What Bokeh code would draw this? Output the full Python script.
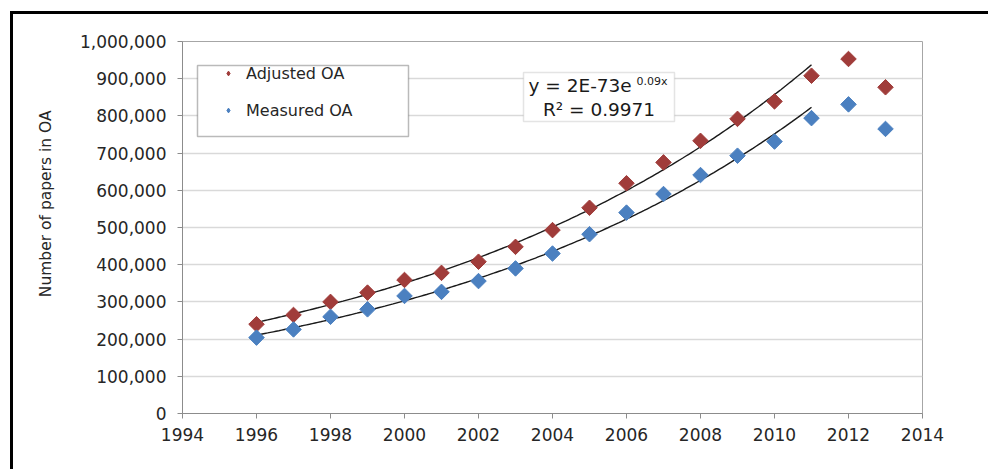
import numpy as np
from bokeh.plotting import figure
from bokeh.models import (Range1d, FixedTicker, NumeralTickFormatter, Legend, LegendItem,
                          BoxAnnotation, Label, Title)
from bokeh.embed import file_html
from bokeh.resources import INLINE

# ---- data ----
years = [1996, 1997, 1998, 1999, 2000, 2001, 2002, 2003, 2004,
         2005, 2006, 2007, 2008, 2009, 2010, 2011, 2012, 2013]
adjusted_oa = [240000, 265000, 300000, 325000, 359000, 378000, 408000, 448000, 493000,
               553000, 619000, 675000, 733000, 792000, 839000, 908000, 953000, 877000]
measured_oa = [204000, 226000, 260000, 280000, 316000, 327000, 356000, 390000, 430000,
               482000, 540000, 590000, 641000, 693000, 731000, 794000, 831000, 765000]
fit_last_year = 2011
x_ticks = list(range(1994, 2015, 2))
y_ticks = list(range(0, 1000001, 100000))
eq_main = "y = 2E-73e"
eq_sup = "0.09x"
eq_r2 = "R² = 0.9971"
y_title = "Number of papers in  OA"

FONT = "DejaVu Sans"
RED = "#A03C3A"
BLUE = "#4B80C0"

W, H = 975, 455
p = figure(width=W, height=H, output_backend="svg", toolbar_location=None,
           x_range=Range1d(1994, 2014), y_range=Range1d(0, 1000000),
           frame_width=740, frame_height=372,
           min_border_left=169, min_border_top=27,
           min_border_right=W - 169 - 740, min_border_bottom=H - 27 - 372)
p.styles = {"border-top": "3px solid #000", "border-left": "3px solid #000",
            "margin-left": "10px", "margin-top": "11px"}

p.outline_line_color = "#A6A6A6"
p.outline_line_width = 1
p.xgrid.visible = False
p.ygrid.grid_line_color = "#D9D9D9"
p.ygrid.grid_line_width = 1.5
p.ygrid.ticker = FixedTicker(ticks=y_ticks)

for ax in (p.xaxis[0], p.yaxis[0]):
    ax.axis_line_color = "#8C8C8C"
    ax.major_tick_line_color = "#8C8C8C"
    ax.minor_tick_line_color = None
    ax.major_tick_in = 0
    ax.major_tick_out = 5
    ax.major_label_text_font = FONT
    ax.major_label_text_font_size = "17px"
    ax.major_label_text_color = "#262626"
p.xaxis.ticker = FixedTicker(ticks=x_ticks)
p.yaxis.ticker = FixedTicker(ticks=y_ticks)
p.yaxis.formatter = NumeralTickFormatter(format="0,0")
p.xaxis.major_label_standoff = 9
p.yaxis.major_label_standoff = 11

# y-axis title as a side title, top-aligned and pushed down like the reference
p.add_layout(Title(text=y_title, align="right", offset=64, standoff=43,
                   text_font=FONT, text_font_size="15.5px", text_font_style="normal",
                   text_color="#262626"), "left")

# trend lines: exponential fits through 1996-2011
xa = np.array(years, dtype=float)
mask = xa <= fit_last_year
xs = np.linspace(xa[mask].min(), fit_last_year, 200)
for series in (adjusted_oa, measured_oa):
    ya = np.array(series, dtype=float)
    b, a = np.polyfit(xa[mask], np.log(ya[mask]), 1)
    p.line(xs, np.exp(a + b * xs), line_color="#1A1A1A", line_width=1.4)

r_adj = p.scatter(years, adjusted_oa, marker="square", angle=np.pi / 4, size=11,
                  fill_color=RED, line_color=RED)
r_mea = p.scatter(years, measured_oa, marker="square", angle=np.pi / 4, size=11,
                  fill_color=BLUE, line_color=BLUE)

# legend-only proxies (small diamonds, nothing drawn in the plot area)
lg_adj = p.scatter([np.nan], [np.nan], marker="diamond", size=8, fill_color=RED, line_color=RED)
lg_mea = p.scatter([np.nan], [np.nan], marker="diamond", size=8, fill_color=BLUE, line_color=BLUE)

# legend box
p.add_layout(BoxAnnotation(left=1994.405, right=2000.108, bottom=744600, top=935500,
                           fill_color="white", fill_alpha=1.0,
                           line_color="#1A1A1A", line_width=1.5, level="overlay"))
legend = Legend(items=[LegendItem(label="Adjusted OA", renderers=[lg_adj]),
                       LegendItem(label="Measured OA", renderers=[lg_mea])],
                location=(40, 293), padding=0, spacing=17, glyph_width=12, glyph_height=16,
                label_height=20, label_standoff=12, border_line_alpha=0,
                background_fill_alpha=0, label_text_font=FONT, label_text_font_size="16px",
                label_text_color="#262626")
p.add_layout(legend, "center")

# equation box
p.add_layout(BoxAnnotation(left=2003.216, right=2007.297, bottom=784900, top=916700,
                           fill_color="white", fill_alpha=1.0,
                           line_color="#A6A6A6", line_width=1.5, level="overlay"))
p.add_layout(Label(x=2003.351, y=881700, text=eq_main, text_font=FONT, text_font_size="18.5px",
                   text_baseline="middle", text_align="left", text_color="#1A1A1A",
                   level="overlay"))
p.add_layout(Label(x=2006.27, y=893000, text=eq_sup, text_font=FONT, text_font_size="11px",
                   text_baseline="middle", text_align="left", text_color="#1A1A1A",
                   level="overlay"))
p.add_layout(Label(x=2005.257, y=817200, text=eq_r2, text_font=FONT, text_font_size="18.5px",
                   text_baseline="middle", text_align="center", text_color="#1A1A1A",
                   level="overlay"))

open("out.html", "w").write(file_html(p, INLINE))
